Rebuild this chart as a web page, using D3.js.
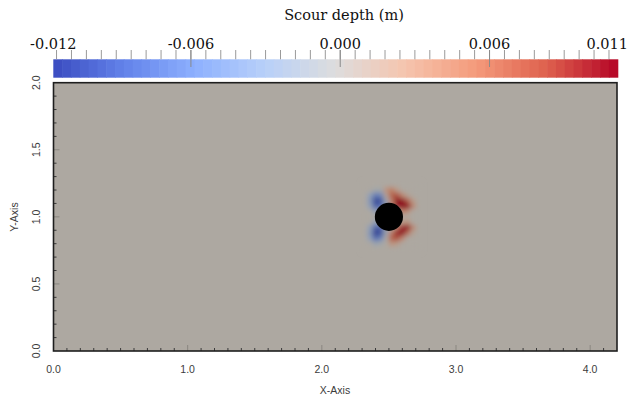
<!DOCTYPE html>
<html>
<head>
<meta charset="utf-8">
<script src="https://cdn.jsdelivr.net/npm/d3@7"></script>
<style>
  body { margin: 0; background: #ffffff; }
  svg { display: block; }
</style>
</head>
<body>
<svg id="chart"></svg>
<script>
// colour bar range and ticks
var scourRange = [-0.01153, 0.01115]
var barMajorTicks = [-0.006, 0.000, 0.006]
var barEndLabels = ["-0.012", "0.011"]

// cool to warm colour stops
var coolWarmStops = ["#3b4cc0", "#6282ea", "#8db0fe", "#b8d0f9", "#dddddd", "#f5c4ad", "#f49a7b", "#de604d", "#b40426"]

// axes
var xDomain = [0, 4.2]
var yDomain = [0, 2.0]
var xTickLabels = [0, 1, 2, 3, 4]
var yTickLabels = [0, 0.5, 1.0, 1.5, 2.0]

// cylinder (x, y, radius)
var pier = [2.5, 1.0, 0.105]

// scour depth grid near the pier
var fieldX = [2.32, 2.36, 2.40, 2.44, 2.48, 2.52, 2.56, 2.60, 2.64, 2.68, 2.72]
var fieldY = [1.24, 1.20, 1.16, 1.12, 1.08, 1.04, 1.00, 0.96, 0.92, 0.88, 0.84, 0.80, 0.76]
var fieldValues = [
    [0, 0, 0, 0, 0, 0, 0, 0, 0, 0, 0],
    [0, 0, -0.001, -0.001, 0.003, 0.005, 0.002, 0, 0, 0, 0],
    [0, -0.003, -0.007, -0.006, 0.001, 0.007, 0.008, 0.004, 0.001, 0, 0],
    [0, -0.004, -0.011, -0.010, -0.002, 0.005, 0.011, 0.011, 0.007, 0.002, 0],
    [0, -0.003, -0.009, -0.008, -0.003, 0.004, 0.010, 0.012, 0.012, 0.004, 0],
    [0, 0, -0.003, -0.001, 0, 0, 0, 0.005, 0.003, 0, 0],
    [0, 0, 0, 0, 0, 0, 0, 0, 0, 0, 0],
    [0, 0, -0.003, -0.001, 0, 0, 0, 0.002, 0.003, 0, 0],
    [0, -0.003, -0.009, -0.009, -0.002, 0, 0.005, 0.010, 0.011, 0.004, 0],
    [0, -0.004, -0.012, -0.010, -0.002, 0.005, 0.010, 0.012, 0.006, 0.001, 0],
    [0, -0.003, -0.008, -0.006, 0, 0.007, 0.008, 0.004, 0, 0, 0],
    [0, 0, -0.002, -0.001, 0, 0.003, 0.002, 0, 0, 0, 0],
    [0, 0, 0, 0, 0, 0, 0, 0, 0, 0, 0]
]

var width = 638,
    height = 403

var svg = d3.select("#chart")
    .attr("width", width)
    .attr("height", height)

var plot = {left: 53.5, right: 617, top: 82.7, bottom: 351}

var x = d3.scaleLinear().domain(xDomain).range([plot.left, plot.right])
var y = d3.scaleLinear().domain(yDomain).range([plot.bottom, plot.top])

// colour map over the scour range
var colorT = d3.scaleLinear().domain(scourRange).range([0, 1]).clamp(true)
var ramp = d3.piecewise(d3.interpolateRgb, coolWarmStops)
function barColor(v) {
    return ramp(colorT(v))
}
// surface is shaded, so darken the map a bit
var shade = [0.775, 0.768, 0.737]
function surfaceColor(v) {
    var c = d3.rgb(barColor(v))
    return d3.rgb(c.r * shade[0], c.g * shade[1], c.b * shade[2]).formatHex()
}

// ---- colour bar ----
var bar = {top: 59.3, bottom: 77.7}
var cb = d3.scaleLinear().domain(scourRange).range([53.3, 617.7])
var nBands = 64
var bandW = (cb.range()[1] - cb.range()[0]) / nBands

svg.append("g")
    .selectAll("rect")
    .data(d3.range(nBands))
    .enter()
    .append("rect")
    .attr("x", function (i) { return cb.range()[0] + i * bandW })
    .attr("y", bar.top)
    .attr("width", bandW + 0.6)
    .attr("height", bar.bottom - bar.top)
    .attr("fill", function (i) {
        return barColor(cb.invert(cb.range()[0] + (i + 0.5) * bandW))
    })

// minor ticks every 0.0006
var minorBar = d3.range(-0.0114, 0.0112, 0.0006)
svg.append("g")
    .selectAll("line")
    .data(minorBar)
    .enter()
    .append("line")
    .attr("x1", function (d) { return cb(d) })
    .attr("x2", function (d) { return cb(d) })
    .attr("y1", 50)
    .attr("y2", bar.top)
    .attr("stroke", "#9a9a9a")
    .attr("stroke-width", 1)

svg.append("g")
    .selectAll("line")
    .data(barMajorTicks)
    .enter()
    .append("line")
    .attr("x1", function (d) { return cb(d) })
    .attr("x2", function (d) { return cb(d) })
    .attr("y1", 50)
    .attr("y2", 67)
    .attr("stroke", "#8a8a8a")
    .attr("stroke-width", 1)

var serif = "'DejaVu Serif', serif"

svg.append("g")
    .selectAll("text")
    .data(barMajorTicks)
    .enter()
    .append("text")
    .attr("x", function (d) { return cb(d) })
    .attr("y", 49)
    .attr("text-anchor", "middle")
    .style("font-family", serif)
    .style("font-size", "14.5px")
    .attr("fill", "#111")
    .text(function (d) { return d.toFixed(3) })

svg.append("text")
    .attr("x", cb.range()[0])
    .attr("y", 49)
    .attr("text-anchor", "middle")
    .style("font-family", serif)
    .style("font-size", "14.5px")
    .attr("fill", "#111")
    .text(barEndLabels[0])

svg.append("text")
    .attr("x", 628)
    .attr("y", 49)
    .attr("text-anchor", "end")
    .style("font-family", serif)
    .style("font-size", "14.5px")
    .attr("fill", "#111")
    .text(barEndLabels[1])

svg.append("text")
    .attr("x", 344)
    .attr("y", 20)
    .attr("text-anchor", "middle")
    .style("font-family", serif)
    .style("font-size", "14.5px")
    .attr("fill", "#111")
    .text("Scour depth (m)")

// ---- surface ----
svg.append("rect")
    .attr("x", plot.left)
    .attr("y", plot.top)
    .attr("width", plot.right - plot.left)
    .attr("height", plot.bottom - plot.top)
    .attr("fill", surfaceColor(0))

var defs = svg.append("defs")
defs.append("filter")
    .attr("id", "soft")
    .attr("x", "-20%").attr("y", "-20%")
    .attr("width", "140%").attr("height", "140%")
    .append("feGaussianBlur")
    .attr("stdDeviation", 2.5)

var cells = []
fieldValues.forEach(function (row, j) {
    row.forEach(function (v, i) {
        cells.push({x: fieldX[i], y: fieldY[j], v: v})
    })
})
var cellW = x(0.04) - x(0)
var cellH = y(0) - y(0.04)

svg.append("g")
    .attr("filter", "url(#soft)")
    .selectAll("rect")
    .data(cells)
    .enter()
    .append("rect")
    .attr("x", function (d) { return x(d.x) - cellW / 2 })
    .attr("y", function (d) { return y(d.y) - cellH / 2 })
    .attr("width", cellW + 0.3)
    .attr("height", cellH + 0.3)
    .attr("fill", function (d) { return surfaceColor(d.v) })

// pier
svg.append("circle")
    .attr("cx", x(pier[0]))
    .attr("cy", y(pier[1]))
    .attr("r", x(pier[2]) - x(0))
    .attr("fill", "#000")

// ---- axes ticks (inside frame) ----
var xMinor = d3.range(0.1, 4.15, 0.1)
var yMinor = d3.range(0.1, 1.95, 0.1)

svg.append("g")
    .selectAll("line")
    .data(xMinor)
    .enter()
    .append("line")
    .attr("x1", function (d) { return x(d) })
    .attr("x2", function (d) { return x(d) })
    .attr("y1", plot.bottom)
    .attr("y2", function (d) {
        return Math.abs(d - Math.round(d)) < 1e-6 ? plot.bottom - 6 : plot.bottom - 3
    })
    .attr("stroke", function (d) {
        return Math.abs(d - Math.round(d)) < 1e-6 ? "#8a8780" : "#3a3a3a"
    })

svg.append("g")
    .selectAll("line")
    .data(yMinor)
    .enter()
    .append("line")
    .attr("y1", function (d) { return y(d) })
    .attr("y2", function (d) { return y(d) })
    .attr("x1", plot.left)
    .attr("x2", function (d) {
        return Math.abs(d * 2 - Math.round(d * 2)) < 1e-6 ? plot.left + 6 : plot.left + 3
    })
    .attr("stroke", function (d) {
        return Math.abs(d * 2 - Math.round(d * 2)) < 1e-6 ? "#8a8780" : "#3a3a3a"
    })

// frame
svg.append("rect")
    .attr("x", plot.left)
    .attr("y", plot.top)
    .attr("width", plot.right - plot.left)
    .attr("height", plot.bottom - plot.top)
    .attr("fill", "none")
    .attr("stroke", "#1e1e1e")
    .attr("stroke-width", 1.6)

var sans = "'Liberation Sans', Arial, sans-serif"

svg.append("g")
    .selectAll("text")
    .data(xTickLabels)
    .enter()
    .append("text")
    .attr("x", function (d) { return x(d) })
    .attr("y", 373)
    .attr("text-anchor", "middle")
    .style("font-family", sans)
    .style("font-size", "10.5px")
    .attr("fill", "#3c3c3c")
    .text(function (d) { return d.toFixed(1) })

svg.append("g")
    .selectAll("text")
    .data(yTickLabels)
    .enter()
    .append("text")
    .attr("transform", function (d) { return "translate(39.5," + y(d) + ") rotate(-90)" })
    .attr("text-anchor", "middle")
    .style("font-family", sans)
    .style("font-size", "10.5px")
    .attr("fill", "#3c3c3c")
    .text(function (d) { return d.toFixed(1) })

svg.append("text")
    .attr("x", 335)
    .attr("y", 394)
    .attr("text-anchor", "middle")
    .style("font-family", sans)
    .style("font-size", "10.5px")
    .attr("fill", "#3c3c3c")
    .text("X-Axis")

svg.append("text")
    .attr("transform", "translate(17.8,217) rotate(-90)")
    .attr("text-anchor", "middle")
    .style("font-family", sans)
    .style("font-size", "10.5px")
    .attr("fill", "#3c3c3c")
    .text("Y-Axis")
</script>
</body>
</html>
